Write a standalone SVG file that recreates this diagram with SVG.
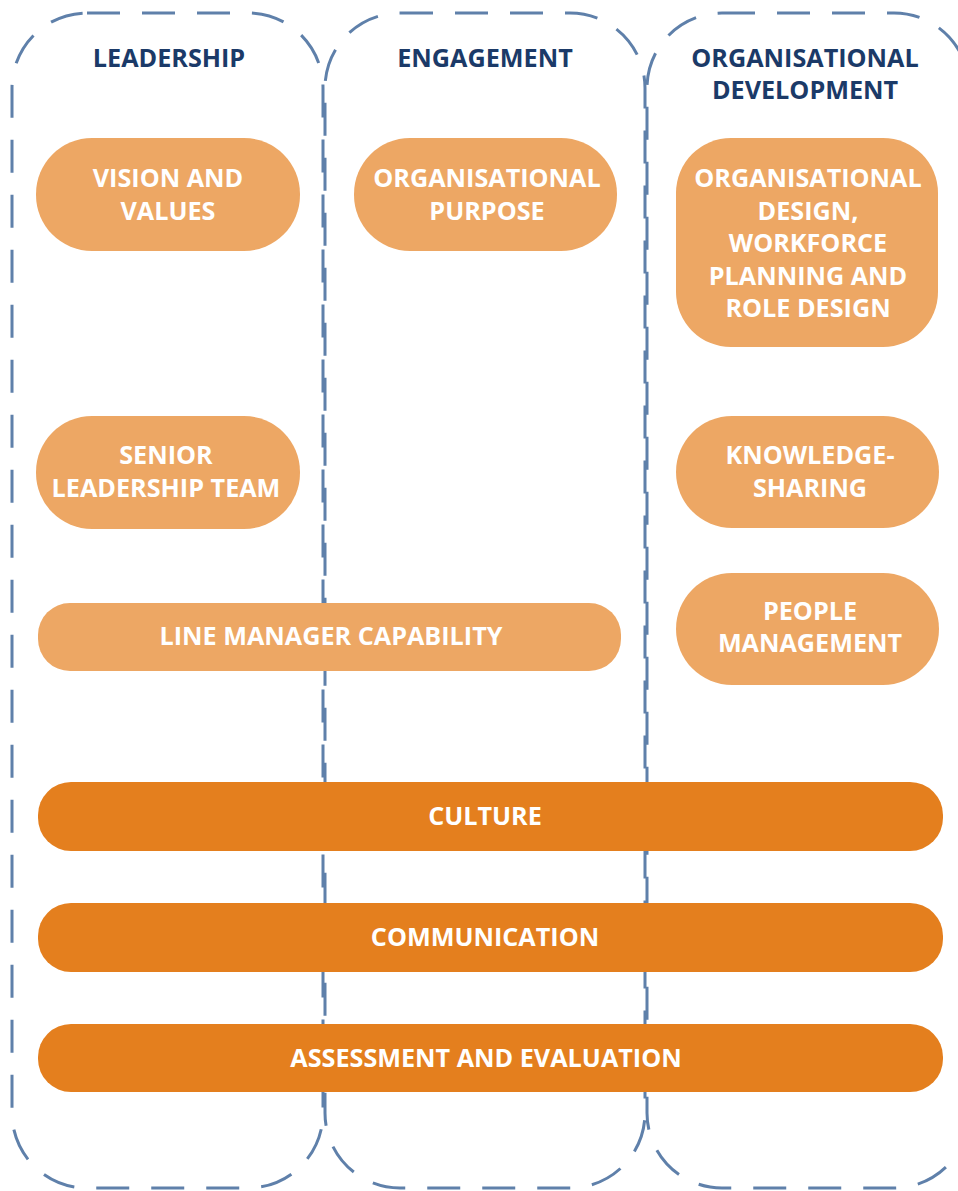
<svg xmlns="http://www.w3.org/2000/svg" width="958" height="1191" viewBox="0 0 958 1191">
<style>
.col{fill:none;stroke:#5F80AA;stroke-width:3;stroke-dasharray:33 22}
.title{font-family:"Open Sans","Liberation Sans",sans-serif;font-weight:bold;font-size:25.2px;fill:#1B3A68;text-anchor:middle}
.lbl{font-family:"Open Sans","Liberation Sans",sans-serif;font-weight:bold;font-size:25.2px;fill:#FFFFFF;text-anchor:middle}
.lt{fill:#EDA764}
.dk{fill:#E47F1E}
</style>
<rect width="958" height="1191" fill="#FFFFFF"/>
<g id="columns">
<g id="col-leadership">
<rect class="col" x="12" y="13" width="311" height="1175" rx="75" ry="75"/>
<text class="title" x="169" y="67">LEADERSHIP</text>
</g>
<g id="col-engagement">
<rect class="col" x="325" y="13" width="320" height="1175" rx="75" ry="75"/>
<text class="title" x="485" y="67">ENGAGEMENT</text>
</g>
<g id="col-orgdev">
<rect class="col" x="647" y="13" width="322" height="1175" rx="75" ry="75"/>
<text class="title" x="805" y="67">ORGANISATIONAL</text>
<text class="title" x="805" y="99">DEVELOPMENT</text>
</g>
</g>
<g id="connectors"></g>
<g id="vision">
<rect class="lt" x="36" y="138" width="264" height="113" rx="56" ry="56"/>
<text class="lbl" x="168" y="187">VISION AND</text>
<text class="lbl" x="168" y="220">VALUES</text>
</g>
<g id="purpose">
<rect class="lt" x="354" y="138" width="263" height="113" rx="56" ry="56"/>
<text class="lbl" x="487" y="187">ORGANISATIONAL</text>
<text class="lbl" x="487" y="220">PURPOSE</text>
</g>
<g id="orgdesign">
<rect class="lt" x="676" y="138" width="262" height="209" rx="55" ry="55"/>
<text class="lbl" x="808" y="187">ORGANISATIONAL</text>
<text class="lbl" x="808" y="220">DESIGN,</text>
<text class="lbl" x="808" y="252">WORKFORCE</text>
<text class="lbl" x="808" y="285">PLANNING AND</text>
<text class="lbl" x="808" y="317">ROLE DESIGN</text>
</g>
<g id="slt">
<rect class="lt" x="36" y="416" width="264" height="113" rx="56" ry="56"/>
<text class="lbl" x="166" y="464">SENIOR</text>
<text class="lbl" x="166" y="497">LEADERSHIP TEAM</text>
</g>
<g id="knowledge">
<rect class="lt" x="676" y="416" width="263" height="112" rx="56" ry="56"/>
<text class="lbl" x="810" y="464">KNOWLEDGE-</text>
<text class="lbl" x="810" y="497">SHARING</text>
</g>
<g id="linemanager">
<rect class="lt" x="38" y="603" width="583" height="68" rx="32" ry="32"/>
<text class="lbl" x="331" y="645">LINE MANAGER CAPABILITY</text>
</g>
<g id="people">
<rect class="lt" x="676" y="573" width="263" height="112" rx="56" ry="56"/>
<text class="lbl" x="810" y="620">PEOPLE</text>
<text class="lbl" x="810" y="652">MANAGEMENT</text>
</g>
<g id="culture">
<rect class="dk" x="38" y="782" width="905" height="69" rx="33" ry="33"/>
<text class="lbl" x="485" y="825">CULTURE</text>
</g>
<g id="communication">
<rect class="dk" x="38" y="903" width="905" height="69" rx="33" ry="33"/>
<text class="lbl" x="485" y="946">COMMUNICATION</text>
</g>
<g id="assessment">
<rect class="dk" x="38" y="1024" width="905" height="68" rx="33" ry="33"/>
<text class="lbl" x="486" y="1067">ASSESSMENT AND EVALUATION</text>
</g>
</svg>
